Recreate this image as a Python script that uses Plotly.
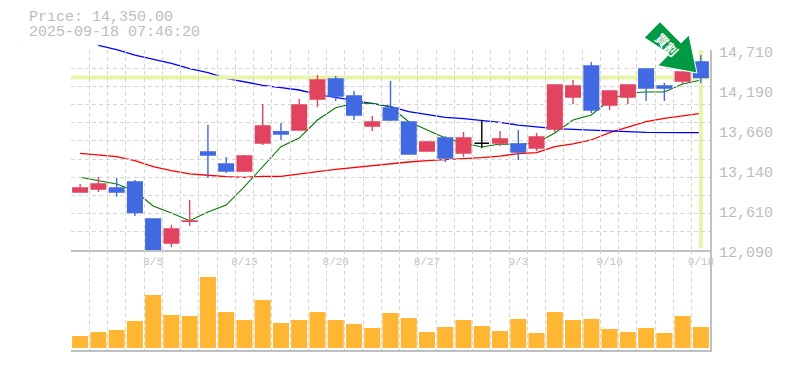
import plotly.graph_objects as go

W, H = 785, 370

dates = ["7/30","7/31","8/1","8/4","8/5","8/6","8/7","8/8","8/12","8/13","8/14","8/15",
         "8/18","8/19","8/20","8/21","8/22","8/25","8/26","8/27","8/28","8/29","9/1","9/2",
         "9/3","9/4","9/5","9/8","9/9","9/10","9/11","9/12","9/16","9/17","9/18"]
date_ticks = ["8/5","8/13","8/20","8/27","9/3","9/10","9/18"]

opens = [12850,12889,12902,12981,12496,12182,12466,13374,13217,13125,13492,13640,13662,14068,14330,14107,13714,13950,
         13767,13387,13557,13361,13488,13492,13479,13426,13675,14094,14500,13990,14094,14461,14238,14304,14553]
highs = [12955,13046,13033,13007,12496,12418,12745,13727,13308,13335,14003,13754,14068,14382,14369,14173,13845,14304,
         13767,13518,13583,13636,13793,13649,13662,13623,14252,14317,14553,14173,14252,14461,14278,14422,14644]
lows = [12850,12850,12788,12535,12090,12129,12404,13033,13099,13112,13466,13531,13662,13963,14042,13793,13649,13780,
        13348,13387,13243,13308,13426,13452,13269,13387,13636,14003,13885,13924,14003,14042,14042,14265,14278]
closes = [12902,12955,12850,12579,12090,12365,12470,13335,13125,13321,13714,13610,13990,14317,14107,13859,13767,13793,
          13348,13505,13295,13557,13488,13544,13374,13570,14252,14238,13924,14173,14252,14212,14212,14422,14350]
flat_days = ["9/1"]

ma_short = [13042,12994,12955,12863,12666,12575,12474,12588,12679,12919,13181,13443,13557,13793,13954,14012,14012,13967,
            13771,13662,13557,13492,13439,13479,13472,13492,13623,13793,13858,14055,14147,14160,14160,14265,14317]
ma_mid = [13357,13331,13312,13260,13181,13129,13086,13069,13050,13042,13055,13055,13082,13116,13147,13173,13200,13221,
          13243,13260,13273,13282,13299,13321,13352,13365,13443,13479,13531,13627,13697,13771,13815,13849,13881]
ma_long = [None,14772,14714,14644,14588,14536,14465,14413,14339,14295,14248,14216,14186,14130,14090,14046,14012,13967,
           13902,13868,13828,13810,13784,13763,13727,13705,13679,13671,13658,13649,13640,13632,13627,13627,13627]
volumes = [12,16,18,27,53,33,32,71,36,28,48,25,28,36,28,24,20,35,
           30,16,21,28,22,17,29,15,36,28,29,19,16,20,15,32,21]

price_labels = [14710,14190,13660,13140,12610,12090]
price_top, price_bottom = 14710, 12090
last_price = 14350
title_lines = ["Price: 14,350.00", "2025-09-18 07:46:20"]
badge_text = "<b>買割</b>"

RED, BLUE, GRID, AXIS, TXT = "#E2435F", "#4169E1", "#D6D6D6", "#C0C0C0", "#BDBDBD"
YEL = "#E6F5A8"
MONO = "Liberation Mono"


def fx(px): return px / W
def fy(px): return 1 - px / H


xs = list(range(len(dates)))
pick = lambda arr, black: [v if (dates[i] in flat_days) == black else None for i, v in enumerate(arr)]

fig = go.Figure()
# moving averages live on their own taller hidden subplot, so they can run above the price grid and under the candles
fig.add_trace(go.Scatter(x=xs, y=ma_mid, mode="lines", line=dict(color="#FF0000", width=1.3)))
fig.add_trace(go.Scatter(x=xs, y=ma_long, mode="lines", line=dict(color="#0000FF", width=1.3)))
fig.add_trace(go.Scatter(x=xs, y=ma_short, mode="lines", line=dict(color="#007A00", width=1.1)))


def candles(black):
    inc = "#000000" if black else RED
    dec = "#000000" if black else BLUE
    return go.Candlestick(
        x=xs, open=pick(opens, black), high=pick(highs, black), low=pick(lows, black), close=pick(closes, black),
        xaxis="x2", yaxis="y2", whiskerwidth=0,
        increasing=dict(line=dict(color=inc, width=1.4), fillcolor=inc),
        decreasing=dict(line=dict(color=dec, width=1.4), fillcolor=dec),
    )


fig.add_trace(candles(False))
fig.add_trace(candles(True))
fig.add_trace(go.Bar(x=xs, y=volumes, marker=dict(color="#FFB733", line=dict(width=0)), xaxis="x3", yaxis="y3"))

x_range = [-0.5, len(dates) - 0.5]
x_dom = [fx(71), fx(710)]
x_common = dict(range=x_range, domain=x_dom, showline=True, linecolor=AXIS, linewidth=2,
                zeroline=False, showgrid=False, ticks="", fixedrange=True,
                minor=dict(showgrid=True, tick0=-0.5, dtick=1, gridcolor=GRID, griddash="4px,3px", gridwidth=1, ticks=""))
px_per_price = 200 / (price_top - price_bottom)
fig.update_layout(
    width=W, height=H, autosize=False, showlegend=False, margin=dict(l=0, r=0, t=0, b=0, autoexpand=False),
    paper_bgcolor="white", plot_bgcolor="rgba(0,0,0,0)", bargap=0.12, boxgap=0.2, boxgroupgap=0, boxmode="overlay",
    xaxis=dict(range=x_range, domain=x_dom, visible=False, fixedrange=True, anchor="y"),
    yaxis=dict(domain=[fy(250), fy(30)], range=[price_bottom, price_top + 20 / px_per_price],
               visible=False, fixedrange=True, anchor="x"),
    xaxis2=dict(**x_common, anchor="y2", rangeslider=dict(visible=False),
                tickmode="array", tickvals=[dates.index(d) for d in date_ticks], ticktext=date_ticks,
                tickfont=dict(family=MONO, size=11, color="#C4C4C4"), ticklabelposition="outside"),
    xaxis3=dict(**x_common, anchor="y3", showticklabels=False),
    yaxis2=dict(domain=[fy(250), fy(50)], range=[price_bottom, price_top], side="right", anchor="x2",
                showline=True, linecolor=AXIS, linewidth=2, zeroline=False, fixedrange=True,
                tickmode="array", tickvals=[price_bottom + (price_top - price_bottom) * k / 11 for k in range(12)],
                showticklabels=False, ticks="", showgrid=True, gridcolor=GRID, griddash="4px,3px", gridwidth=1),
    yaxis3=dict(domain=[fy(350), fy(250)], range=[-2, 98], side="right", anchor="x3", showline=True, linecolor=AXIS,
                linewidth=2, zeroline=False, showgrid=False, showticklabels=False, ticks="", fixedrange=True),
)

# reference lines for the latest price and latest day
fig.add_shape(type="line", xref="x2", yref="y2", x0=-0.5, x1=len(dates) - 0.5, y0=last_price, y1=last_price,
              line=dict(color=YEL, width=4), layer="below")
fig.add_shape(type="line", xref="x2", yref="y2", x0=len(dates) - 1, x1=len(dates) - 1, y0=price_bottom + 20, y1=price_top,
              line=dict(color=YEL, width=4), layer="below")

# badge arrow
arrow = [(660, 21.7), (681, 43), (689, 35), (697, 73), (657.7, 65.7), (669.3, 54), (644.3, 37.7)]
path = "M" + " L".join(f"{fx(a)},{fy(b)}" for a, b in arrow) + " Z"
fig.add_shape(type="path", xref="paper", yref="paper", path=path, fillcolor="#009944", line=dict(color="white", width=1))
fig.add_annotation(xref="paper", yref="paper", x=fx(667), y=fy(44.5), text=badge_text, showarrow=False, textangle=45,
                   font=dict(family="Noto Sans CJK JP", size=13, color="white"), xanchor="center", yanchor="middle")

for i, line in enumerate(title_lines):
    fig.add_annotation(xref="paper", yref="paper", x=fx(28), y=fy(18 + 14.3 * i), text=line, showarrow=False,
                       xanchor="left", yanchor="middle", height=13, borderpad=0,
                       font=dict(family=MONO, size=15, color=TXT))
for p in price_labels:
    fig.add_annotation(xref="paper", yref="y2", x=fx(717), y=p, yshift=-3.5, text=f"{p:,}", showarrow=False,
                       xanchor="left", yanchor="middle", font=dict(family=MONO, size=15, color=TXT))

fig.write_html("out.html", config=dict(displayModeBar=False),
               post_script="document.body.style.margin='0';")
